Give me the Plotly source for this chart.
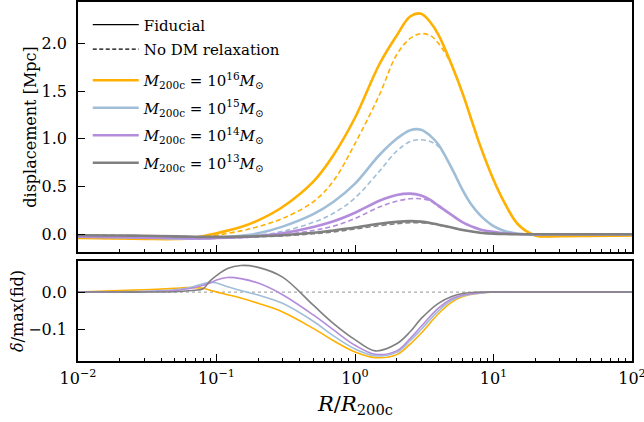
import plotly.graph_objects as go

# ---------------- data ----------------
R = [0.01, 0.02, 0.03, 0.05, 0.07, 0.1, 0.15, 0.2, 0.3, 0.5, 0.7, 1.0, 1.5, 2.0, 2.5,
     3.0, 3.5, 4.0, 5.0, 6.0, 7.0, 8.0, 10.0, 12.0, 15.0, 20.0, 30.0, 50.0, 100.0]

disp_fid_16 = [-0.04, -0.045, -0.048, -0.05, -0.035, 0.01, 0.075, 0.145, 0.285, 0.55, 0.83, 1.22, 1.78, 2.08, 2.28,
               2.31, 2.22, 2.09, 1.77, 1.47, 1.18, 0.93, 0.57, 0.33, 0.105, -0.012, -0.02, -0.018, -0.012]
disp_nodm_16 = [-0.04, -0.045, -0.048, -0.05, -0.04, -0.01, 0.035, 0.08, 0.165, 0.34, 0.56, 0.95, 1.46, 1.88, 2.05,
                2.10, 2.08, 2.00, 1.77, 1.47, 1.18, 0.93, 0.57, 0.33, 0.105, -0.012, -0.02, -0.018, -0.012]
disp_fid_15 = [-0.025, -0.03, -0.035, -0.045, -0.045, -0.035, -0.015, 0.01, 0.08, 0.21, 0.34, 0.53, 0.83, 1.0, 1.09,
               1.095, 1.03, 0.94, 0.69, 0.46, 0.30, 0.20, 0.085, 0.035, 0.005, -0.005, 0.0, 0.0, 0.0]
disp_nodm_15 = [-0.025, -0.03, -0.035, -0.045, -0.045, -0.038, -0.025, -0.01, 0.03, 0.125, 0.22, 0.38, 0.66, 0.87, 0.97,
                0.99, 0.97, 0.92, 0.69, 0.46, 0.30, 0.20, 0.085, 0.035, 0.005, -0.005, 0.0, 0.0, 0.0]
disp_fid_14 = [-0.025, -0.03, -0.035, -0.04, -0.045, -0.04, -0.03, -0.02, 0.01, 0.075, 0.135, 0.225, 0.35, 0.41, 0.425,
               0.405, 0.36, 0.30, 0.20, 0.125, 0.08, 0.05, 0.025, 0.01, 0.003, 0.0, 0.0, 0.0, 0.0]
disp_nodm_14 = [-0.025, -0.03, -0.035, -0.04, -0.045, -0.042, -0.035, -0.027, -0.008, 0.04, 0.085, 0.165, 0.285, 0.345, 0.372,
                0.372, 0.35, 0.29, 0.20, 0.125, 0.08, 0.05, 0.025, 0.01, 0.003, 0.0, 0.0, 0.0, 0.0]
disp_fid_13 = [-0.01, -0.013, -0.016, -0.022, -0.027, -0.028, -0.025, -0.02, -0.01, 0.015, 0.04, 0.07, 0.11, 0.13, 0.137,
               0.132, 0.118, 0.10, 0.07, 0.045, 0.028, 0.016, 0.006, 0.002, 0.0, 0.0, 0.0, 0.0, 0.0]
disp_nodm_13 = [-0.01, -0.013, -0.016, -0.022, -0.027, -0.029, -0.028, -0.025, -0.017, 0.005, 0.025, 0.055, 0.09, 0.11, 0.12,
                0.12, 0.112, 0.097, 0.07, 0.045, 0.028, 0.016, 0.006, 0.002, 0.0, 0.0, 0.0, 0.0, 0.0]

R_ratio = [0.01, 0.02, 0.03, 0.05, 0.06, 0.07, 0.08, 0.09, 0.1, 0.12, 0.15, 0.2, 0.3, 0.5,
           0.7, 1.0, 1.4, 2.0, 2.5, 3.0, 4.0, 5.0, 6.0, 8.0, 10.0, 20.0, 50.0, 100.0]
ratio_16 = [0.0, 0.004, 0.006, 0.01, 0.012, 0.012, 0.01, 0.005, 0.0, -0.007, -0.016, -0.03, -0.053, -0.097,
            -0.13, -0.16, -0.175, -0.167, -0.139, -0.11, -0.058, -0.027, -0.012, -0.003, 0.0, 0.0, 0.0, 0.0]
ratio_15 = [0.0, 0.001, 0.002, 0.006, 0.01, 0.016, 0.022, 0.026, 0.024, 0.014, 0.004, -0.008, -0.03, -0.078,
            -0.117, -0.152, -0.17, -0.161, -0.13, -0.10, -0.05, -0.022, -0.01, -0.003, 0.0, 0.0, 0.0, 0.0]
ratio_14 = [0.0, 0.0, 0.001, 0.004, 0.008, 0.012, 0.018, 0.024, 0.032, 0.039, 0.036, 0.024, -0.007, -0.061,
            -0.101, -0.142, -0.166, -0.157, -0.124, -0.092, -0.043, -0.018, -0.008, -0.002, 0.0, 0.0, 0.0, 0.0]
ratio_13 = [0.0, 0.0, 0.0, 0.001, 0.003, 0.005, 0.009, 0.03, 0.044, 0.063, 0.071, 0.066, 0.04, -0.035,
            -0.084, -0.127, -0.157, -0.138, -0.106, -0.071, -0.03, -0.012, -0.004, 0.0, 0.0, 0.0, 0.0, 0.0]

x_tickvals = [0.01, 0.1, 1, 10, 100]
x_ticktext = ["10<sup>−2</sup>", "10<sup>−1</sup>", "10<sup>0</sup>", "10<sup>1</sup>", "10<sup>2</sup>"]

mass_exponents = [16, 15, 14, 13]
colors = ["#FFB000", "#A0BED8", "#B48CDC", "#808080"]
fid_series = [disp_fid_16, disp_fid_15, disp_fid_14, disp_fid_13]
nodm_series = [disp_nodm_16, disp_nodm_15, disp_nodm_14, disp_nodm_13]
ratio_series = [ratio_16, ratio_15, ratio_14, ratio_13]

FONT = "DejaVu Serif"

fig = go.Figure()

# legend-only style entries (first legend)
fig.add_trace(go.Scatter(x=[None], y=[None], mode="lines", name="Fiducial",
                         line=dict(color="black", width=1.3), legend="legend", legendgroup="s1",
                         xaxis="x", yaxis="y"))
fig.add_trace(go.Scatter(x=[None], y=[None], mode="lines", name="No DM relaxation",
                         line=dict(color="black", width=1.3, dash="4px,2.5px"), legend="legend", legendgroup="s2",
                         xaxis="x", yaxis="y"))

# top panel
for e, c, fid, nodm in zip(mass_exponents, colors, fid_series, nodm_series):
    fig.add_trace(go.Scatter(x=R, y=nodm, mode="lines", showlegend=False,
                             line=dict(color=c, width=1.6, dash="5px,3px", shape="spline", smoothing=1.0),
                             xaxis="x", yaxis="y"))
    fig.add_trace(go.Scatter(x=R, y=fid, mode="lines", legend="legend2", legendgroup=f"m{e}",
                             name=f"<i>M</i><sub>200c</sub> = 10<sup>{e}</sup><i>M</i><sub>⊙</sub>",
                             line=dict(color=c, width=2.6, shape="spline", smoothing=1.0),
                             xaxis="x", yaxis="y"))

# bottom panel zero line
fig.add_trace(go.Scatter(x=[R_ratio[0], R_ratio[-1]], y=[0, 0], mode="lines", showlegend=False,
                         line=dict(color="#aaaaaa", width=1.2, dash="dot"), xaxis="x2", yaxis="y2"))
for c, rat in zip(colors, ratio_series):
    fig.add_trace(go.Scatter(x=R_ratio, y=rat, mode="lines", showlegend=False,
                             line=dict(color=c, width=1.6, shape="spline", smoothing=1.0),
                             xaxis="x2", yaxis="y2"))

axis_common = dict(showline=True, linecolor="black", linewidth=1.5, mirror=True, automargin=False,
                   ticks="inside", tickcolor="black", tickwidth=1.2, showgrid=False, zeroline=False,
                   tickfont=dict(family=FONT, size=16, color="black"))

legend_common = dict(xanchor="left", yanchor="top", bgcolor="rgba(0,0,0,0)",
                     font=dict(family=FONT, size=15, color="black"), traceorder="grouped",
                     itemwidth=46)

fig.update_layout(
    template="none",
    width=644, height=422,
    margin=dict(l=78, r=12, t=2, b=61, autoexpand=False),
    paper_bgcolor="white", plot_bgcolor="white",
    font=dict(family=FONT, color="black"),
    showlegend=True,
    legend=dict(legend_common, x=0.0176, y=0.982, tracegroupgap=2),
    legend2=dict(legend_common, x=0.0176, y=0.8274, tracegroupgap=5),
    xaxis=dict(axis_common, type="log", range=[-2, 2], tickvals=x_tickvals, domain=[0, 1], anchor="y",
               showticklabels=False, ticklen=7,
               minor=dict(ticks="inside", ticklen=3.5, tickcolor="black", tickwidth=1, dtick="D1")),
    yaxis=dict(axis_common, domain=[0.3036, 1], anchor="x", range=[-0.186, 2.432],
               tickvals=[0, 0.5, 1.0, 1.5, 2.0], tickformat=".1f", ticklen=7, ticklabelstandoff=6,
               title=dict(text="displacement [Mpc]", font=dict(family=FONT, size=16), standoff=1)),
    xaxis2=dict(axis_common, type="log", range=[-2, 2], tickvals=x_tickvals, ticktext=x_ticktext,
                domain=[0, 1], anchor="y2", ticklen=7, ticklabelstandoff=2, ticklabeloverflow="allow",
                minor=dict(ticks="inside", ticklen=3.5, tickcolor="black", tickwidth=1, dtick="D1")),
    yaxis2=dict(axis_common, domain=[0, 0.2786], anchor="x2", range=[-0.184, 0.083],
                tickvals=[-0.1, 0.0], tickformat=".1f", ticklen=7, ticklabelstandoff=6,
                title=dict(text="<i>δ</i>/max(fid)", font=dict(family=FONT, size=16), standoff=1)),
    annotations=[dict(text="<i>R</i>/<i>R</i><sub>200c</sub>", xref="paper", yref="paper",
                      x=0.5, y=-0.122, xanchor="center", yanchor="middle", showarrow=False,
                      font=dict(family=FONT, size=21, color="black"))],
)

fig.write_html("out.html", config={"displayModeBar": False},
               post_script="document.body.style.margin='0px';")
